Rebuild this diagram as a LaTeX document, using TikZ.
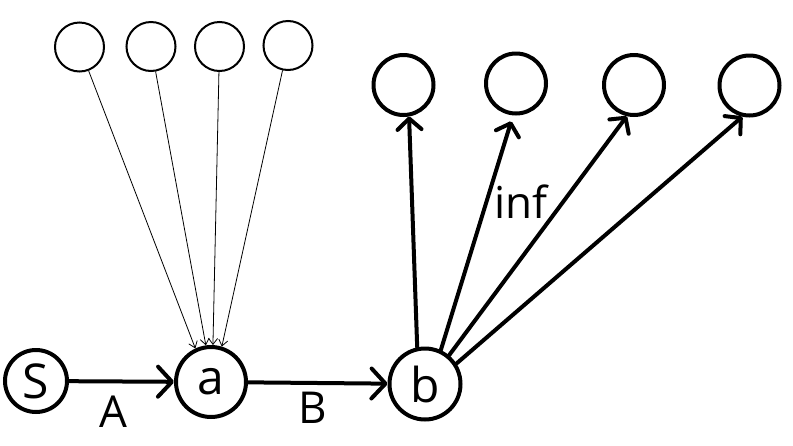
\documentclass[tikz,border=0pt]{standalone}
\usepackage{fontspec}
\setmainfont{Open Sans}
\usetikzlibrary{arrows.meta}
\begin{document}
\begin{tikzpicture}[x=1pt,y=-1pt,
  bignode/.style={circle,draw,line width=4pt,inner sep=0pt,font=\fontsize{48}{50}\selectfont},
  topthin/.style={circle,draw,line width=2pt,inner sep=0pt,minimum size=49pt},
  topthick/.style={circle,draw,line width=4pt,inner sep=0pt,minimum size=60pt},
  thickarrow/.style={line width=4pt,line cap=round,-{Straight Barb[length=14pt,width=30pt,round]}},
  fanarrow/.style={line width=4pt,line cap=round,-{Straight Barb[length=11pt,width=24pt,round]}},
  thinarrow/.style={line width=0.8pt,-{Straight Barb[length=6pt,width=9pt]}},
  lbl/.style={anchor=base,inner sep=0pt,font=\fontsize{44}{46}\selectfont}]
\useasboundingbox[fill=white] (0,0) rectangle (793,445);
% main nodes
\node[bignode,minimum size=62pt] (S) at (36,381) {S};
\node[bignode,minimum size=70pt] (a) at (211,382) {a};
\node[bignode,minimum size=71pt] (b) at (425,384) {b};
% top-left circles
\node[topthin] (c1) at (79.5,47) {};
\node[topthin] (c2) at (151,46.5) {};
\node[topthin] (c3) at (219.5,46.5) {};
\node[topthin] (c4) at (288,45.5) {};
% top-right circles
\node[topthick] (t1) at (403.5,85) {};
\node[topthick] (t2) at (516,83.5) {};
\node[topthick] (t3) at (634,85) {};
\node[topthick] (t4) at (749.5,85.5) {};
% edges
\draw[thickarrow] (S) -- (a);
\draw[thickarrow] (a) -- (b);
\draw[thinarrow] (c1) -- (a.115);
\draw[thinarrow] (c2) -- (a.98);
\draw[thinarrow] (c3) -- (a.87);
\draw[thinarrow] (c4) -- (a.73);
\draw[fanarrow] (b.102) -- (t1.280);
\draw[fanarrow] (b.65) -- ([shift={(-2pt,-6pt)}]t2.265);
\draw[fanarrow] (b.50) -- (t3.257);
\draw[fanarrow] (b.33) -- (t4.257);
% labels
\node[lbl] (lA) at (113,427) {A};
\node[lbl] (lB) at (313,423) {B};
\node[lbl] (linf) at (521,218) {inf};
\end{tikzpicture}
\end{document}
